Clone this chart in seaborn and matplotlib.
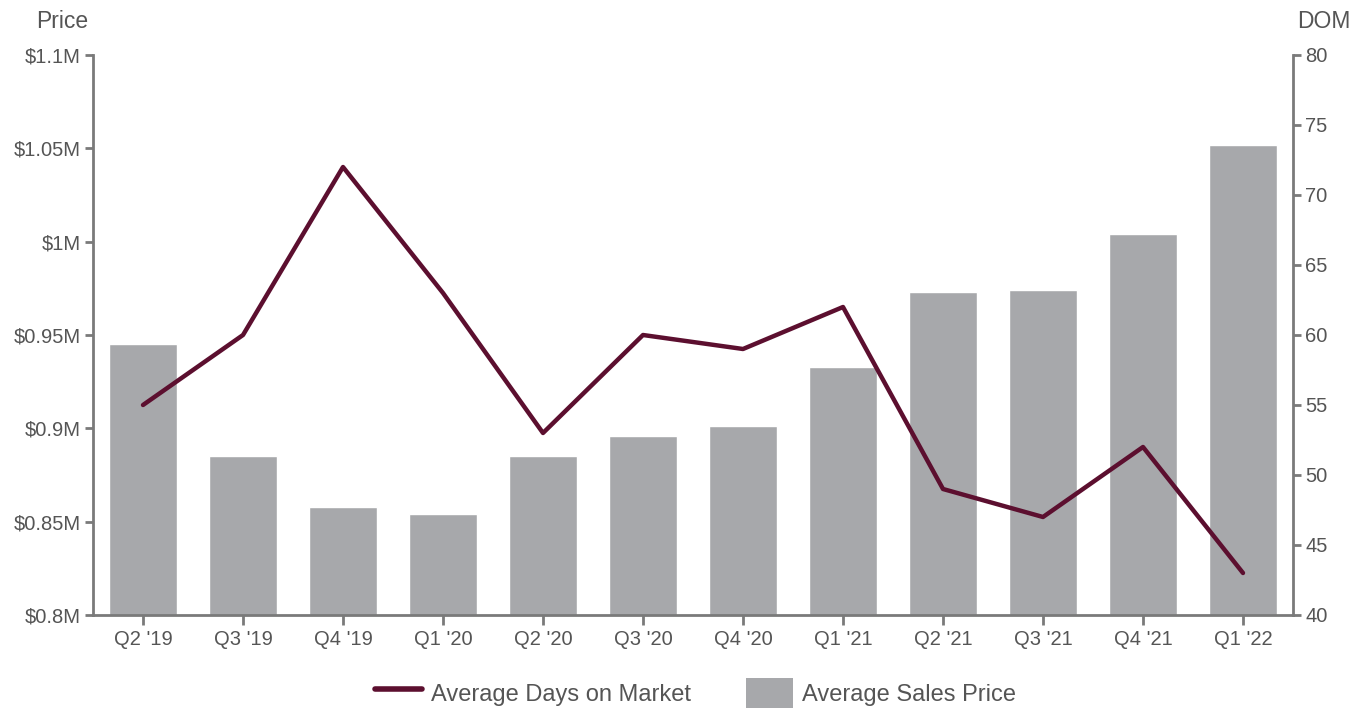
import matplotlib
matplotlib.use("Agg")
import matplotlib.pyplot as plt
import seaborn as sns
import pandas as pd
from matplotlib.lines import Line2D
from matplotlib.patches import Patch

categories = ["Q2 '19", "Q3 '19", "Q4 '19", "Q1 '20", "Q2 '20", "Q3 '20",
              "Q4 '20", "Q1 '21", "Q2 '21", "Q3 '21", "Q4 '21", "Q1 '22"]
avg_price = [0.945, 0.885, 0.858, 0.854, 0.885, 0.896, 0.901, 0.933, 0.973, 0.974, 1.004, 1.052]
avg_dom = [55, 60, 72, 63, 53, 60, 59, 62, 49, 47, 52, 43]
price_ticks = [0.8, 0.85, 0.9, 0.95, 1.0, 1.05, 1.1]
price_labels = ["$0.8M", "$0.85M", "$0.9M", "$0.95M", "$1M", "$1.05M", "$1.1M"]
dom_ticks = [40, 45, 50, 55, 60, 65, 70, 75, 80]

df = pd.DataFrame({"Quarter": categories, "Price": avg_price, "DOM": avg_dom})

sns.set_theme(style="white")
plt.rcParams["font.family"] = ["Liberation Sans", "DejaVu Sans"]

TEXT = "#555555"
SPINE = "#7a7a7a"
BAR = "#a7a8ab"
LINE = "#5c0f2f"

fig = plt.figure(figsize=(13.53, 7.09), dpi=100)
ax = fig.add_axes([93/1353, 1-615/709, 1200/1353, 560/709])

sns.barplot(data=df, x="Quarter", y="Price", color=BAR, width=0.68,
            saturation=1, ax=ax, zorder=1)
ax.set_ylim(0.8, 1.1)
ax.set_xlim(-0.5, len(categories) - 0.5)
ax.set_yticks(price_ticks)
ax.set_yticklabels(price_labels)
ax.set_xlabel("")
ax.set_ylabel("")

ax2 = ax.twinx()
sns.lineplot(data=df, x="Quarter", y="DOM", color=LINE, linewidth=3.2, ax=ax2,
             sort=False)
ax2.set_ylim(40, 80)
ax2.set_yticks(dom_ticks)
ax2.set_ylabel("")
ax2.set_xlim(-0.5, len(categories) - 0.5)

for a in (ax, ax2):
    for s in a.spines.values():
        s.set_color(SPINE)
        s.set_linewidth(2)
    a.spines["top"].set_visible(False)
    a.tick_params(axis="both", colors=SPINE, labelcolor=TEXT, labelsize=14.5,
                  length=6, width=2, direction="out", pad=3)
ax.spines["right"].set_visible(False)
ax2.spines["left"].set_visible(False)
ax2.spines["bottom"].set_visible(False)
ax.tick_params(axis="y", left=True)
ax.tick_params(axis="x", bottom=True, length=7, pad=4)
ax2.tick_params(axis="y", right=True)

fig.text(62/1353, 1-22/709, "Price", ha="center", va="center", fontsize=16.5, color=TEXT)
fig.text(1324/1353, 1-22/709, "DOM", ha="center", va="center", fontsize=16.5, color=TEXT)

handles = [Line2D([0], [0], color=LINE, lw=4),
           Patch(facecolor=BAR, edgecolor="none")]
leg = fig.legend(handles, ["Average Days on Market", "Average Sales Price"],
                 loc="center", bbox_to_anchor=(0.514, 1-693/709), ncol=2,
                 frameon=False, fontsize=17, handlelength=2.0, handleheight=1.6,
                 columnspacing=2.3, handletextpad=0.4, labelcolor=TEXT)

fig.savefig("out.png", dpi=100)
